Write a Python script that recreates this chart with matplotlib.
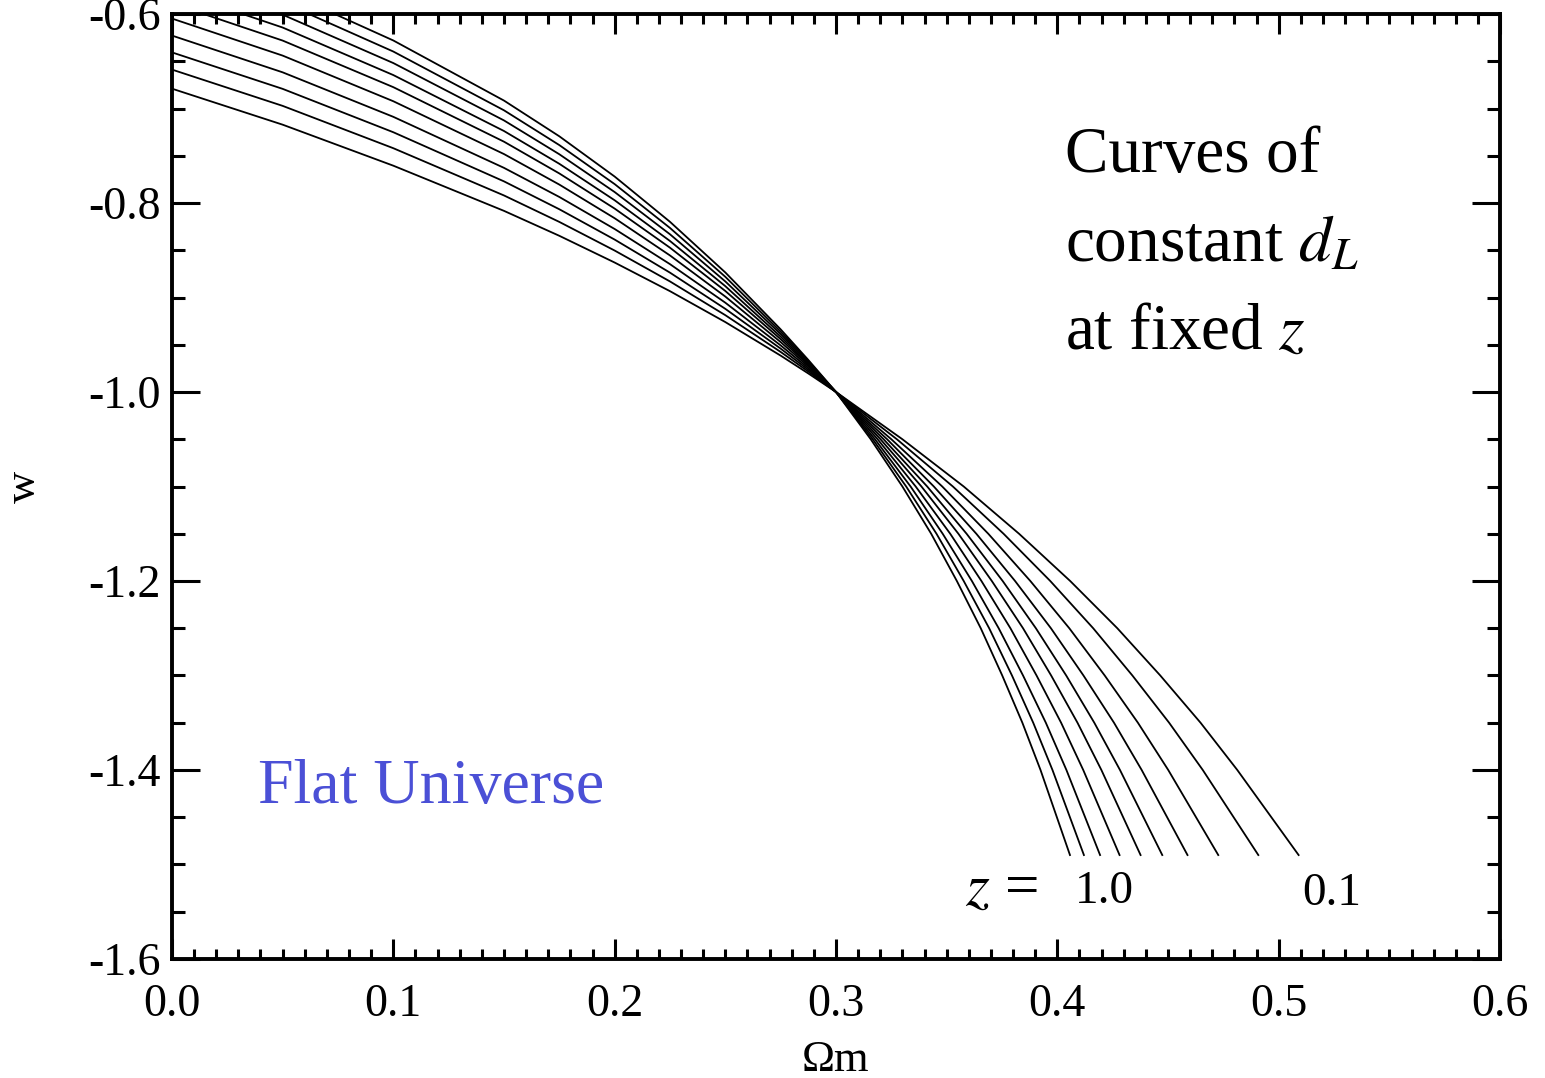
import matplotlib
matplotlib.use('Agg')
import matplotlib.pyplot as plt
from matplotlib.ticker import MultipleLocator, FormatStrFormatter

FIG_SIZE = (15.45, 10.78)
DPI = 100
TEXT_FONT = 'Liberation Serif'
BLUE = '#4b50d6'

REDSHIFTS = [0.1, 0.2, 0.3, 0.4, 0.5, 0.6, 0.7, 0.8, 0.9, 1.0]

# upper branch: w on a grid of Omega_m, one row per redshift
OMEGA_UPPER = [0.0, 0.05, 0.1, 0.15, 0.175, 0.2, 0.225, 0.25, 0.275, 0.2875, 0.3]
W_UPPER = [
    [-0.6790, -0.7171, -0.7605, -0.8083, -0.8347, -0.8630, -0.8933, -0.9260, -0.9615, -0.9804, -1.0],
    [-0.6588, -0.6972, -0.7420, -0.7920, -0.8200, -0.8503, -0.8830, -0.9187, -0.9576, -0.9784, -1.0],
    [-0.6406, -0.6792, -0.7251, -0.7771, -0.8066, -0.8387, -0.8737, -0.9120, -0.9541, -0.9766, -1.0],
    [-0.6228, -0.6617, -0.7088, -0.7628, -0.7936, -0.8275, -0.8647, -0.9055, -0.9507, -0.9748, -1.0],
    [-0.6048, -0.6440, -0.6923, -0.7482, -0.7805, -0.8161, -0.8555, -0.8990, -0.9472, -0.9730, -1.0],
    [-0.5887, -0.6281, -0.6774, -0.7351, -0.7687, -0.8059, -0.8473, -0.8931, -0.9441, -0.9714, -1.0],
    [-0.5747, -0.6143, -0.6646, -0.7238, -0.7585, -0.7971, -0.8402, -0.8880, -0.9414, -0.9701, -1.0],
    [-0.5609, -0.6007, -0.6519, -0.7126, -0.7484, -0.7884, -0.8331, -0.8830, -0.9387, -0.9687, -1.0],
    [-0.5477, -0.5876, -0.6397, -0.7019, -0.7387, -0.7800, -0.8264, -0.8781, -0.9362, -0.9674, -1.0],
    [-0.5350, -0.5751, -0.6280, -0.6916, -0.7294, -0.7720, -0.8199, -0.8735, -0.9337, -0.9661, -1.0],
]

# lower branch: Omega_m on a grid of w, one row per redshift
W_LOWER = [-1.05, -1.1, -1.15, -1.2, -1.25, -1.3, -1.35, -1.4, -1.49]
OMEGA_LOWER = [
    [0.3300, 0.3577, 0.3827, 0.4058, 0.4271, 0.4465, 0.4647, 0.4813, 0.5090],
    [0.3275, 0.3528, 0.3757, 0.3968, 0.4162, 0.4339, 0.4505, 0.4657, 0.4908],
    [0.3250, 0.3480, 0.3688, 0.3878, 0.4054, 0.4214, 0.4364, 0.4501, 0.4727],
    [0.3231, 0.3442, 0.3634, 0.3809, 0.3971, 0.4118, 0.4256, 0.4381, 0.4588],
    [0.3215, 0.3412, 0.3590, 0.3753, 0.3903, 0.4040, 0.4167, 0.4283, 0.4474],
    [0.3201, 0.3386, 0.3553, 0.3704, 0.3845, 0.3972, 0.4091, 0.4199, 0.4376],
    [0.3188, 0.3360, 0.3516, 0.3657, 0.3788, 0.3906, 0.4017, 0.4117, 0.4281],
    [0.3176, 0.3337, 0.3482, 0.3614, 0.3735, 0.3845, 0.3948, 0.4041, 0.4193],
    [0.3166, 0.3317, 0.3454, 0.3577, 0.3692, 0.3795, 0.3891, 0.3978, 0.4120],
    [0.3157, 0.3300, 0.3430, 0.3546, 0.3654, 0.3751, 0.3842, 0.3924, 0.4057],
]


def main():
    plt.rcParams['font.family'] = TEXT_FONT
    plt.rcParams['mathtext.fontset'] = 'stix'
    plt.rcParams['axes.unicode_minus'] = False

    fig = plt.figure(figsize=FIG_SIZE, dpi=DPI)
    ax = fig.add_axes([0.1113, 0.1104, 0.8596, 0.8766])

    for i, z in enumerate(REDSHIFTS):
        om = OMEGA_UPPER + OMEGA_LOWER[i]
        w = W_UPPER[i] + W_LOWER
        ax.plot(om, w, color='black', lw=1.3)

    ax.set_xlim(0.0, 0.6)
    ax.set_ylim(-1.6, -0.6)
    ax.xaxis.set_major_locator(MultipleLocator(0.1))
    ax.xaxis.set_minor_locator(MultipleLocator(0.01))
    ax.yaxis.set_major_locator(MultipleLocator(0.2))
    ax.yaxis.set_minor_locator(MultipleLocator(0.05))
    ax.xaxis.set_major_formatter(FormatStrFormatter('%.1f'))
    ax.yaxis.set_major_formatter(FormatStrFormatter('%.1f'))

    ax.tick_params(which='both', direction='in', top=True, right=True,
                   width=2.2, labelsize=33)
    ax.tick_params(axis='x', which='major', length=14.4, pad=18)
    ax.tick_params(axis='x', which='minor', length=7.2)
    ax.tick_params(axis='y', which='major', length=20, pad=8)
    ax.tick_params(axis='y', which='minor', length=9.4)
    for spine in ax.spines.values():
        spine.set_linewidth(2.8)

    ax.set_xlabel('Ωm', fontsize=32, labelpad=10)
    ax.set_ylabel('w', fontsize=32, labelpad=32)

    ax.text(0.6724, 0.8328, 'Curves of', transform=ax.transAxes,
            fontsize=47, va='baseline')
    ax.text(0.6724, 0.7386, 'constant $d_L$', transform=ax.transAxes,
            fontsize=47, va='baseline')
    ax.text(0.6724, 0.6455, 'at fixed $z$', transform=ax.transAxes,
            fontsize=47, va='baseline')
    ax.text(0.0648, 0.165, 'Flat Universe', transform=ax.transAxes,
            fontsize=46, va='baseline', color=BLUE)

    # redshift labels at the foot of the curves
    ax.text(0.3583, -1.5425, '$z$ =', fontsize=44, va='baseline')
    ax.text(0.408, -1.5405, '1.0', fontsize=34, va='baseline')
    ax.text(0.5106, -1.5425, '0.1', fontsize=34, va='baseline')

    fig.savefig('out.png', dpi=DPI)


if __name__ == "__main__":
    main()
